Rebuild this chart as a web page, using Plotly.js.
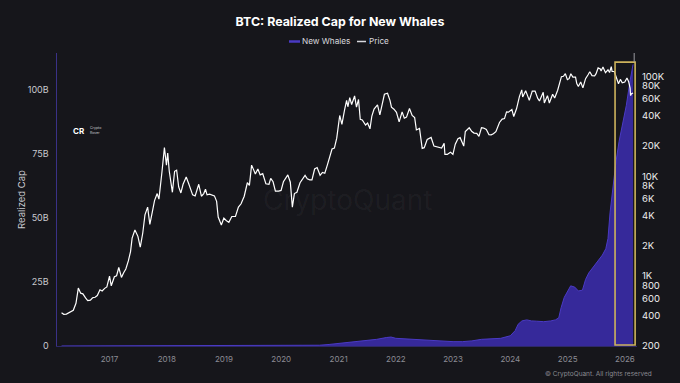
<!DOCTYPE html>
<html>
<head>
<meta charset="utf-8">
<script src="https://cdn.plot.ly/plotly-3.0.1.min.js"></script>
<style>
html,body{margin:0;padding:0;background:#16161b;}
#chart{width:680px;height:383px;}
</style>
</head>
<body>
<div id="chart"></div>
<script>
// ---- Data ----
const whaleDates = ['2016-03-01','2016-09-01','2017-03-01','2017-09-01','2018-01-01','2018-07-01','2019-01-01','2019-07-01','2020-01-01','2020-07-01','2020-09-01','2020-11-01','2021-01-01','2021-03-01','2021-05-01','2021-07-01','2021-09-01','2021-11-01','2021-12-01','2022-01-01','2022-03-01','2022-05-01','2022-07-01','2022-09-01','2022-11-01','2023-01-01','2023-03-01','2023-05-01','2023-07-01','2023-09-01','2023-11-01','2024-01-01','2024-02-01','2024-02-20','2024-03-15','2024-04-15','2024-05-15','2024-06-15','2024-08-01','2024-09-15','2024-10-15','2024-11-05','2024-11-20','2024-12-10','2025-01-01','2025-01-20','2025-02-15','2025-03-10','2025-04-05','2025-04-25','2025-05-15','2025-06-15','2025-07-15','2025-08-10','2025-09-01','2025-09-15','2025-09-28','2025-10-15','2025-11-05','2025-11-25','2025-12-15','2026-01-10','2026-02-01','2026-02-22'];
const whaleValues = [0.02,0.03,0.05,0.08,0.15,0.12,0.1,0.15,0.15,0.2,0.3,0.6,1.0,1.5,2.0,2.2,2.6,3.3,3.5,3.0,2.8,2.7,2.5,2.0,1.8,1.7,1.7,2.0,2.6,2.7,3.0,4.0,6.0,8.5,9.8,10.2,9.8,9.7,9.5,9.8,10.2,11.0,15.0,19.0,21.5,23.5,23.0,21.5,21.8,26,28.5,31,33,35.5,38,42,52,62,72,80,86,94,103,110];

const priceDates = ['2016-03-01','2016-03-15','2016-04-01','2016-04-15','2016-05-01','2016-05-15','2016-06-01','2016-06-16','2016-07-01','2016-07-15','2016-08-01','2016-08-15','2016-09-01','2016-09-15','2016-10-01','2016-10-15','2016-11-01','2016-11-15','2016-12-01','2016-12-15','2017-01-01','2017-01-12','2017-02-01','2017-02-15','2017-03-01','2017-03-18','2017-04-01','2017-04-15','2017-05-01','2017-05-15','2017-05-25','2017-06-12','2017-07-01','2017-07-16','2017-08-01','2017-08-15','2017-09-01','2017-09-15','2017-10-01','2017-10-15','2017-11-01','2017-11-12','2017-12-01','2017-12-17','2017-12-30','2018-01-07','2018-01-17','2018-02-06','2018-02-20','2018-03-05','2018-03-18','2018-04-01','2018-04-15','2018-05-05','2018-05-20','2018-06-01','2018-06-15','2018-07-01','2018-07-24','2018-08-10','2018-08-25','2018-09-05','2018-09-15','2018-10-01','2018-10-15','2018-11-01','2018-11-15','2018-11-25','2018-12-15','2018-12-31','2019-01-15','2019-02-01','2019-02-20','2019-03-15','2019-04-03','2019-04-20','2019-05-10','2019-05-30','2019-06-12','2019-06-26','2019-07-10','2019-07-20','2019-08-05','2019-08-20','2019-09-05','2019-09-25','2019-10-15','2019-10-26','2019-11-10','2019-11-25','2019-12-15','2019-12-31','2020-01-15','2020-02-12','2020-02-28','2020-03-12','2020-03-25','2020-04-10','2020-04-30','2020-05-15','2020-06-01','2020-06-15','2020-07-01','2020-07-15','2020-08-01','2020-08-17','2020-09-05','2020-09-20','2020-10-05','2020-10-21','2020-11-05','2020-11-20','2020-12-05','2020-12-20','2021-01-08','2021-01-22','2021-02-08','2021-02-21','2021-03-01','2021-03-13','2021-03-25','2021-04-13','2021-04-25','2021-05-08','2021-05-19','2021-06-01','2021-06-22','2021-07-05','2021-07-20','2021-08-01','2021-08-15','2021-09-06','2021-09-21','2021-10-05','2021-10-20','2021-11-09','2021-11-25','2021-12-04','2021-12-20','2022-01-05','2022-01-22','2022-02-10','2022-02-24','2022-03-10','2022-03-29','2022-04-15','2022-05-01','2022-05-12','2022-06-01','2022-06-18','2022-07-01','2022-07-20','2022-08-14','2022-09-01','2022-09-15','2022-10-01','2022-10-20','2022-11-05','2022-11-10','2022-11-25','2022-12-15','2022-12-31','2023-01-15','2023-02-01','2023-02-15','2023-03-10','2023-03-20','2023-04-14','2023-05-01','2023-05-15','2023-06-01','2023-06-15','2023-07-01','2023-07-15','2023-08-01','2023-08-18','2023-09-01','2023-09-15','2023-10-01','2023-10-24','2023-11-10','2023-11-25','2023-12-08','2023-12-20','2024-01-11','2024-01-23','2024-02-10','2024-02-28','2024-03-14','2024-03-20','2024-04-08','2024-04-20','2024-05-01','2024-05-20','2024-06-07','2024-06-24','2024-07-05','2024-07-29','2024-08-05','2024-08-25','2024-09-06','2024-09-27','2024-10-10','2024-10-29','2024-11-12','2024-11-22','2024-12-05','2024-12-17','2024-12-30','2025-01-10','2025-01-21','2025-02-03','2025-02-20','2025-02-28','2025-03-10','2025-03-25','2025-04-08','2025-04-25','2025-05-10','2025-05-22','2025-06-05','2025-06-22','2025-07-01','2025-07-14','2025-07-28','2025-08-02','2025-08-14','2025-08-30','2025-09-15','2025-09-25','2025-10-06','2025-10-11','2025-10-25','2025-11-04','2025-11-14','2025-11-21','2025-12-03','2025-12-15','2025-12-31','2026-01-14','2026-01-25','2026-02-03','2026-02-06','2026-02-12','2026-02-22'];
const priceValues = [430,415,417,430,450,455,535,760,675,665,605,570,575,608,615,640,730,710,755,780,1000,800,985,1010,1220,970,1080,1180,1420,1760,2400,2900,2500,1950,2700,4100,4900,3300,4400,5700,6700,5900,10900,19300,12900,17000,11200,6900,11200,11500,7800,6800,8300,9800,8500,7500,6500,6350,8300,6300,6700,7400,6500,6600,6450,6350,5600,3900,3250,3800,3600,3450,3950,3950,4900,5300,6300,8600,8100,12900,11500,10500,11800,10300,10600,8400,8300,9500,8800,7100,7100,7200,8800,10300,8700,4900,6700,6900,8600,9300,10200,9400,9200,9200,11800,12200,10200,10900,10700,12900,15500,18700,19100,24000,40500,33000,46000,57500,49500,61000,52000,63500,49000,58500,37000,36500,32500,34000,29800,40000,47000,51700,41000,51500,66000,67500,57000,49000,46800,43500,35000,44000,38000,39000,47500,40500,38500,29000,30000,19000,19300,23300,24400,20000,19700,19300,19100,21300,16500,16500,17400,16550,20900,23700,24300,20000,28000,30500,28000,27000,26800,25000,30500,30300,29300,26000,25900,26600,27900,34500,37300,37700,44000,43700,46500,39500,47500,62500,73000,62000,71500,64000,57500,71000,71000,60000,56500,69000,54000,64000,54000,66000,60500,72500,88000,99000,100000,106000,92500,94500,106000,98000,98000,84500,79000,87500,76500,94500,103000,111000,101500,101000,106000,121000,118000,113000,123500,108500,116000,109000,125000,112000,111500,101000,94500,84000,93000,86000,87500,96000,88000,76000,64000,67000,68000];

const leftTickVals = [0,25,50,75,100];
const leftTickText = ['0','25B','50B','75B','100B'];
const rightTickVals = [200,400,600,800,1000,2000,4000,6000,8000,10000,20000,40000,60000,80000,100000];
const rightTickText = ['200','400','600','800','1K','2K','4K','6K','8K','10K','20K','40K','60K','80K','100K'];
const seriesNames = ['New Whales', 'Price'];

const FONT = 'Inter, "Noto Sans", "DejaVu Sans", sans-serif';
const WHALE_FILL = '#36299a';
const WHALE_LINE = '#4a3ac4';

// paper-coordinate helpers for the legend placed above the plot (plot area: 57..637 px, 53..346 px)
const px = v => (v - 57) / 580;
const py = v => (346 - v) / 293;

const traces = [
  {
    x: whaleDates, y: whaleValues, type: 'scatter', mode: 'lines',
    fill: 'tozeroy', fillcolor: WHALE_FILL,
    line: {color: WHALE_LINE, width: 1}, name: seriesNames[0], showlegend: false,
    yaxis: 'y'
  },
  {
    x: priceDates, y: priceValues, type: 'scatter', mode: 'lines',
    line: {color: '#ffffff', width: 1.2}, name: seriesNames[1], yaxis: 'y2', showlegend: false
  }
];

const layout = {
  width: 680, height: 383,
  paper_bgcolor: '#16161b', plot_bgcolor: '#16161b',
  margin: {l: 57, r: 43, t: 53, b: 37},
  font: {family: FONT, color: '#bdbdc4', size: 10},
  title: {text: '<b>BTC: Realized Cap for New Whales</b>', x: 0.5, xanchor: 'center', y: 0.943, yanchor: 'middle',
          font: {family: FONT, size: 12.4, color: '#ffffff'}},
  showlegend: false,
  xaxis: {
    type: 'date', range: ['2016-02-01', '2026-03-19'],
    showgrid: false, zeroline: false,
    showline: true, linecolor: '#2e2868', linewidth: 1,
    tickformat: '%Y', dtick: 'M12', tick0: '2017-01-01',
    tickfont: {family: FONT, size: 8, color: '#8c8c94'}, ticks: '', ticklen: 0, ticklabelstandoff: 5
  },
  yaxis: {
    range: [0, 114.45], showgrid: false, zeroline: false,
    showline: true, linecolor: '#3a3187', linewidth: 1.5,
    tickvals: leftTickVals, ticktext: leftTickText,
    tickfont: {family: FONT, size: 9, color: '#c8c8ce'}, ticks: '', ticklabelstandoff: 5,
    title: {text: 'Realized Cap', font: {family: FONT, size: 9.5, color: '#c8c8ce'}, standoff: 0}
  },
  yaxis2: {
    type: 'log', overlaying: 'y', side: 'right',
    range: [Math.log10(200), 5.2325], showgrid: false, zeroline: false, showline: false,
    tickvals: rightTickVals, ticktext: rightTickText,
    tickfont: {family: FONT, size: 9.5, color: '#eeeeee'}, ticks: '', ticklabelstandoff: 4
  },
  shapes: [
    {type: 'rect', xref: 'x', yref: 'paper', x0: '2025-10-30', x1: '2026-03-07', y0: 0.0034, y1: 0.969,
     line: {color: '#cdb35c', width: 1.6}, fillcolor: 'rgba(0,0,0,0)'},
    {type: 'line', xref: 'x', yref: 'paper', x0: '2026-03-01', x1: '2026-03-01', y0: 0.969, y1: 1.0,
     line: {color: '#9a9aa0', width: 1}},
    // legend swatches
    {type: 'line', xref: 'paper', yref: 'paper', x0: px(289), x1: px(300), y0: py(41.5), y1: py(41.5),
     line: {color: WHALE_LINE, width: 2.5}},
    {type: 'line', xref: 'paper', yref: 'paper', x0: px(357), x1: px(366), y0: py(41.5), y1: py(41.5),
     line: {color: '#d8d8de', width: 1.5}}
  ],
  annotations: [
    {text: seriesNames[0], xref: 'paper', yref: 'paper', x: px(301), y: py(41), xanchor: 'left', yanchor: 'middle',
     showarrow: false, borderpad: 0, font: {family: FONT, size: 8.2, color: '#d8d8de'}},
    {text: seriesNames[1], xref: 'paper', yref: 'paper', x: px(368), y: py(41), xanchor: 'left', yanchor: 'middle',
     showarrow: false, borderpad: 0, font: {family: FONT, size: 8.2, color: '#d8d8de'}},
    {text: 'CryptoQuant', xref: 'paper', yref: 'paper', x: 0.5, y: 0.50, xanchor: 'center', yanchor: 'middle',
     showarrow: false, font: {family: FONT, size: 28, color: 'rgba(255,255,255,0.045)'}},
    {text: '<b>CR</b>', xref: 'paper', yref: 'paper', x: 0.024, y: 0.735, xanchor: 'left', yanchor: 'middle',
     showarrow: false, font: {family: FONT, size: 8, color: '#ffffff'}},
    {text: 'Crypto<br>Rover', xref: 'paper', yref: 'paper', x: 0.053, y: 0.735, xanchor: 'left', yanchor: 'middle',
     showarrow: false, align: 'left', font: {family: FONT, size: 3.5, color: '#cfcfd4'}},
    {text: '© CryptoQuant. All rights reserved', xref: 'paper', yref: 'paper', x: 1.03, y: -0.095,
     xanchor: 'right', yanchor: 'middle', showarrow: false,
     font: {family: FONT, size: 6.5, color: '#8a8a92'}}
  ]
};

Plotly.newPlot('chart', traces, layout, {displayModeBar: false, staticPlot: true});
</script>
</body>
</html>
